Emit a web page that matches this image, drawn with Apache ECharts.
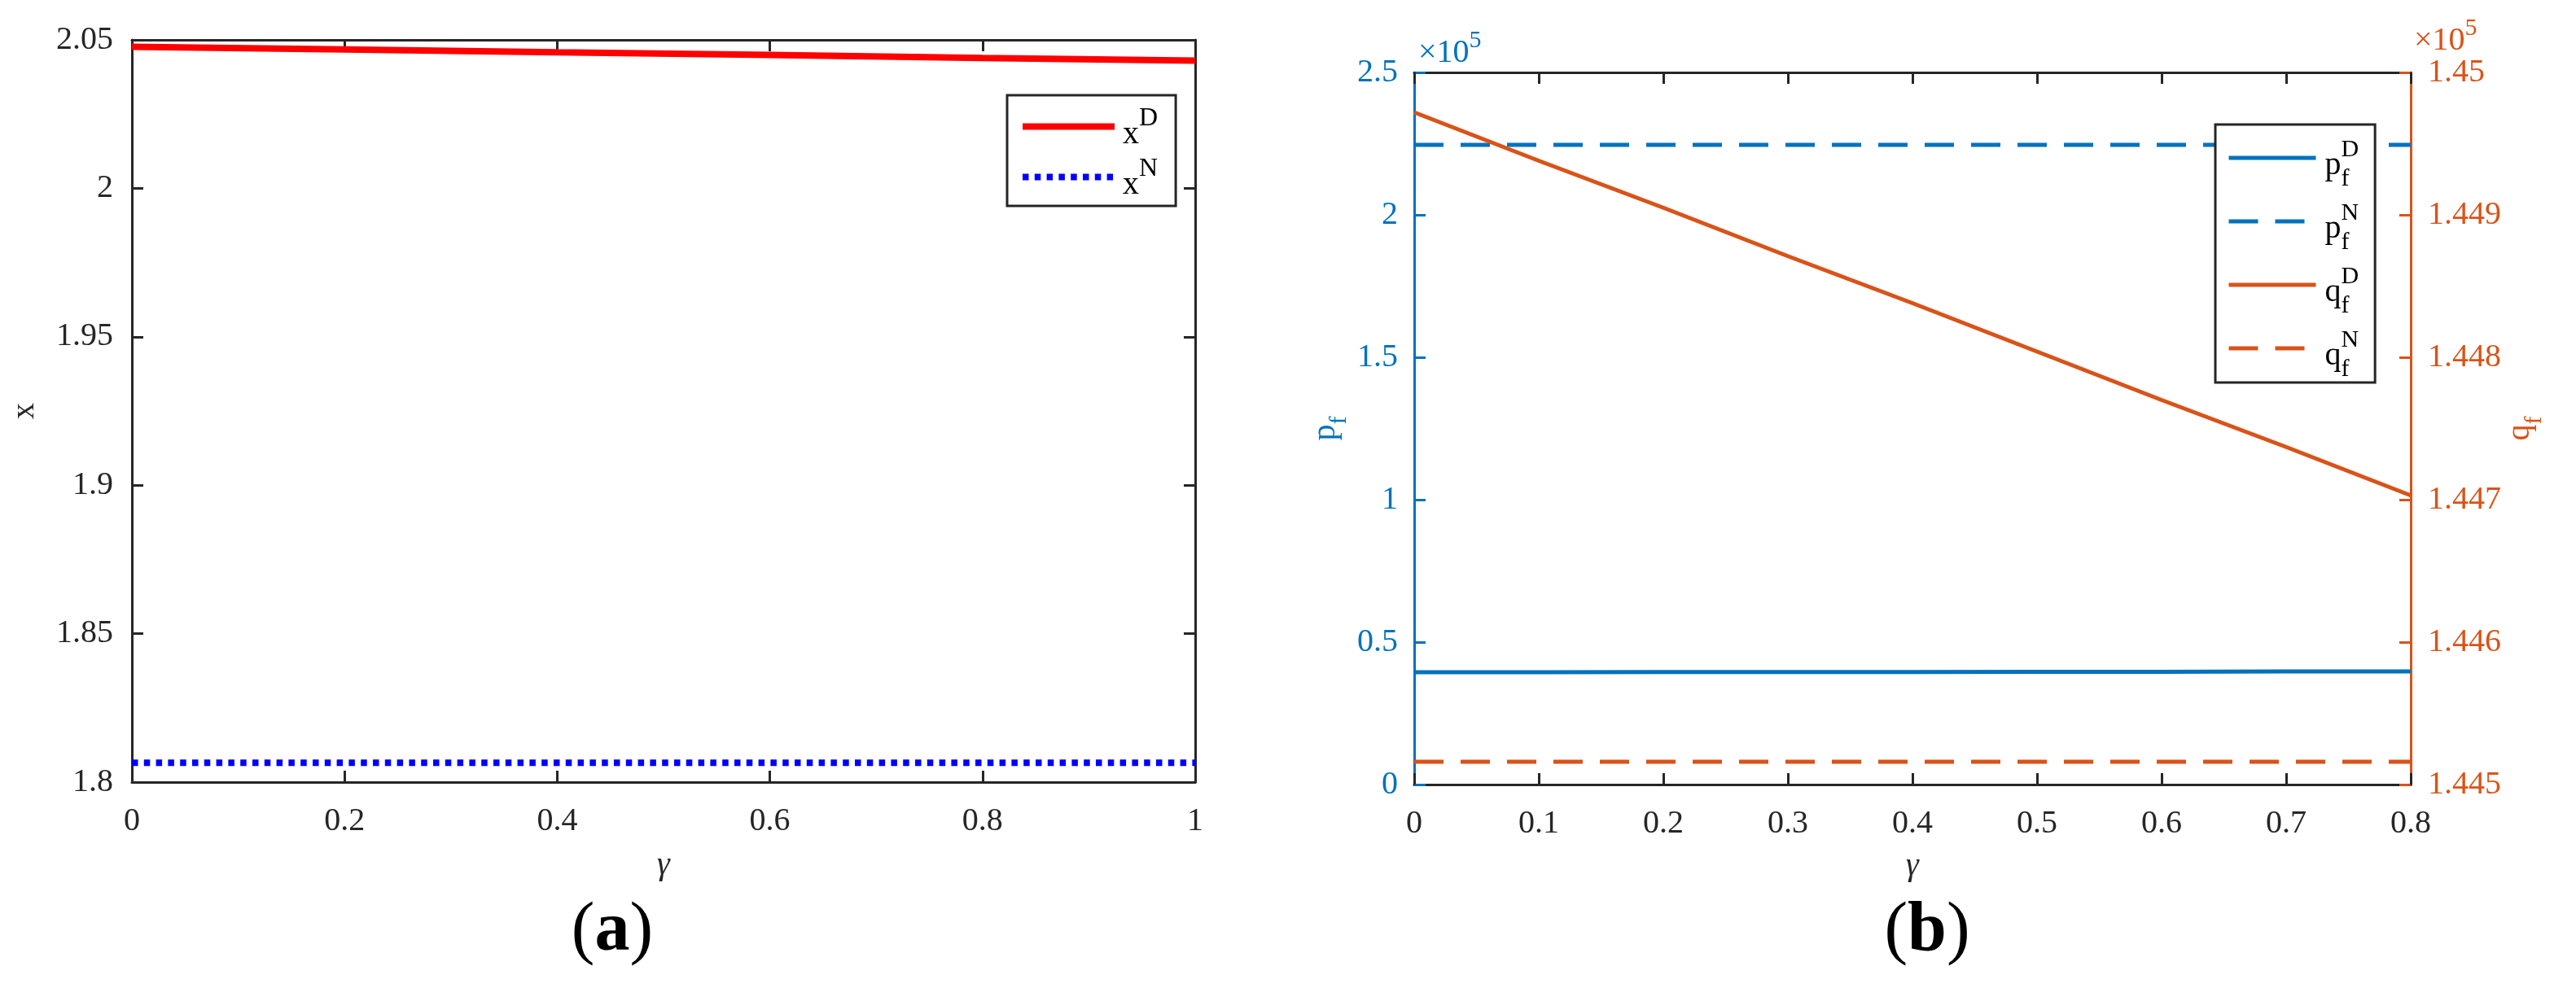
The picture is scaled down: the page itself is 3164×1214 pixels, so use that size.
<!DOCTYPE html>
<html>
<head>
<meta charset="utf-8">
<script src="https://cdn.jsdelivr.net/npm/echarts@6/dist/echarts.min.js"></script>
<style>
html, body { margin: 0; padding: 0; background: #fff; }
#main { width: 3164px; height: 1214px; }
</style>
</head>
<body>
<div id="main"></div>
<script>
// (a) x against gamma
const gammaA = [0, 0.2, 0.4, 0.6, 0.8, 1];
const xD = [2.0477, 2.0468, 2.0458, 2.0449, 2.0439, 2.0430];
const xN = [1.8065, 1.8065, 1.8065, 1.8065, 1.8065, 1.8065];

// (b) p_f and q_f against gamma, in units of 10^5
const gammaB = [0, 0.1, 0.2, 0.3, 0.4, 0.5, 0.6, 0.7, 0.8];
const pfD = [0.394, 0.394, 0.395, 0.395, 0.395, 0.396, 0.396, 0.397, 0.397];
const pfN = [2.246, 2.246, 2.246, 2.246, 2.246, 2.246, 2.246, 2.246, 2.246];
const qfD = [1.44972, 1.44938, 1.44905, 1.44871, 1.44838, 1.44804, 1.44770, 1.44737, 1.44703];
const qfN = [1.44516, 1.44516, 1.44516, 1.44516, 1.44516, 1.44516, 1.44516, 1.44516, 1.44516];

const SERIF = "'Liberation Serif', 'Times New Roman', serif";
const DARK = "#262626";
const BLUE = "#0072BD";
const ORANGE = "#D95319";

const pairs = (xs, ys) => xs.map((g, i) => [g, ys[i]]);

// legend labels, superscript stacked above subscript
const LABELS = {
  xD: "{g| }{sup|D}\n{b|x}",
  xN: "{g| }{sup|N}\n{b|x}",
  pD: "{g| }{sup|D}\n{b|p}{s|f}",
  pN: "{g| }{sup|N}\n{b|p}{s|f}",
  qD: "{g| }{sup|D}\n{b|q}{s|f}",
  qN: "{g| }{sup|N}\n{b|q}{s|f}",
};

function axisCommon(color, showLabel, margin) {
  return {
    axisLine: { onZero: false, lineStyle: { color: color, width: 3 } },
    axisTick: { inside: true, length: 14, lineStyle: { color: color, width: 3 } },
    axisLabel: {
      show: showLabel,
      margin: margin,
      fontSize: 40,
      fontFamily: SERIF,
      color: color,
    },
    splitLine: { show: false },
  };
}

// p_f / q_f axis names (subscript f)
function subName(color) {
  return {
    color: color,
    rich: {
      b: { fontSize: 40, fontFamily: SERIF, color: color, height: 24, lineHeight: 32, verticalAlign: "top" },
      s: { fontSize: 30, fontFamily: SERIF, color: color, height: 6, lineHeight: 6, verticalAlign: "bottom" },
    },
  };
}

const gammaName = {
  name: "\u03b3",
  nameLocation: "middle",
  nameTextStyle: { fontSize: 40, fontFamily: SERIF, fontStyle: "italic", color: DARK },
};

const myChart = echarts.init(document.getElementById("main"), null, { renderer: "canvas" });

myChart.setOption({
  animation: false,
  backgroundColor: "#fff",
  grid: [
    { left: 162, top: 49, width: 1306, height: 912, outerBoundsMode: "none" },
    { left: 1737, top: 89, width: 1224, height: 875, outerBoundsMode: "none" },
  ],
  xAxis: [
    Object.assign({ gridIndex: 0, type: "value", min: 0, max: 1, interval: 0.2, position: "bottom", nameGap: 82 },
      axisCommon(DARK, true, 28), gammaName),
    Object.assign({ gridIndex: 0, type: "value", min: 0, max: 1, interval: 0.2, position: "top" },
      axisCommon(DARK, false, 8)),
    Object.assign({ gridIndex: 1, type: "value", min: 0, max: 0.8, interval: 0.1, position: "bottom", nameGap: 80 },
      axisCommon(DARK, true, 28), gammaName),
    Object.assign({ gridIndex: 1, type: "value", min: 0, max: 0.8, interval: 0.1, position: "top" },
      axisCommon(DARK, false, 8)),
  ],
  yAxis: [
    Object.assign({
      gridIndex: 0, type: "value", min: 1.8, max: 2.05, interval: 0.05, position: "left",
      name: "x", nameLocation: "middle", nameRotate: 90, nameGap: 112,
      nameTextStyle: { fontSize: 40, fontFamily: SERIF, color: DARK },
    }, axisCommon(DARK, true, 23)),
    Object.assign({ gridIndex: 0, type: "value", min: 1.8, max: 2.05, interval: 0.05, position: "right" },
      axisCommon(DARK, false, 8)),
    Object.assign({
      gridIndex: 1, type: "value", min: 0, max: 2.5, interval: 0.5, position: "left",
      name: "{b|p}{s|f}", nameLocation: "middle", nameRotate: 90, nameGap: 89,
      nameTextStyle: subName(BLUE),
    }, axisCommon(BLUE, true, 20)),
    Object.assign({
      gridIndex: 1, type: "value", min: 1.445, max: 1.45, interval: 0.001, position: "right",
      name: "{b|q}{s|f}", nameLocation: "middle", nameRotate: 90, nameGap: 118,
      nameTextStyle: subName(ORANGE),
    }, axisCommon(ORANGE, true, 21)),
  ],
  legend: [
    {
      data: ["xD", "xN"],
      left: 1237,
      top: 117,
      orient: "vertical",
      itemWidth: 113,
      itemHeight: 12,
      itemGap: 7,
      padding: [13, 22, 6, 15],
      borderColor: DARK,
      borderWidth: 3,
      borderRadius: 0,
      backgroundColor: "#fff",
      selectedMode: false,
      formatter: (n) => LABELS[n],
      lineStyle: { width: 8 },
      itemStyle: { opacity: 0 },
      textStyle: {
        padding: [0, 0, 0, 5],
        rich: {
          g: { width: 20, fontSize: 10, height: 19, lineHeight: 19 },
          sup: { fontSize: 32, fontFamily: SERIF, color: "#000", height: 19, lineHeight: 19 },
          b: { fontSize: 40, fontFamily: SERIF, color: "#000", height: 19, lineHeight: 19 },
        },
      },
    },
    {
      data: ["pD", "pN", "qD", "qN"],
      left: 2721,
      top: 153,
      orient: "vertical",
      itemWidth: 107,
      itemHeight: 12,
      itemGap: 12,
      padding: [16, 20, 1, 14],
      borderColor: DARK,
      borderWidth: 3,
      borderRadius: 0,
      backgroundColor: "#fff",
      selectedMode: false,
      formatter: (n) => LABELS[n],
      lineStyle: { width: 5 },
      itemStyle: { opacity: 0 },
      textStyle: {
        padding: [9.5, 0, 0, 6],
        rich: {
          g: { width: 20, fontSize: 10, height: 19, lineHeight: 19 },
          sup: { fontSize: 30, fontFamily: SERIF, color: "#000", height: 19, lineHeight: 19 },
          b: { fontSize: 40, fontFamily: SERIF, color: "#000", height: 19, lineHeight: 29.5, verticalAlign: "top" },
          s: { fontSize: 30, fontFamily: SERIF, color: "#000", height: 6, lineHeight: 6, verticalAlign: "bottom" },
        },
      },
    },
  ],
  graphic: [
    {
      type: "text", x: 1742, y: 80,
      style: {
        text: "{a|\u00d710}{s|5}", fill: BLUE, verticalAlign: "bottom",
        rich: {
          a: { fontSize: 40, fontFamily: SERIF, fill: BLUE, height: 30, lineHeight: 40, verticalAlign: "bottom" },
          s: { fontSize: 30, fontFamily: SERIF, fill: BLUE, height: 20, lineHeight: 20, verticalAlign: "top" },
        },
      },
    },
    {
      type: "text", x: 2965, y: 65,
      style: {
        text: "{a|\u00d710}{s|5}", fill: ORANGE, verticalAlign: "bottom",
        rich: {
          a: { fontSize: 40, fontFamily: SERIF, fill: ORANGE, height: 30, lineHeight: 40, verticalAlign: "bottom" },
          s: { fontSize: 30, fontFamily: SERIF, fill: ORANGE, height: 20, lineHeight: 20, verticalAlign: "top" },
        },
      },
    },
    {
      type: "text", x: 752, y: 1145,
      style: {
        text: "{p|(}{b|a}{p|)}", fill: "#000", align: "center", verticalAlign: "middle",
        rich: {
          p: { fontSize: 86, fontFamily: SERIF, fill: "#000" },
          b: { fontSize: 86, fontFamily: SERIF, fontWeight: "bold", fill: "#000" },
        },
      },
    },
    {
      type: "text", x: 2367, y: 1145,
      style: {
        text: "{p|(}{b|b}{p|)}", fill: "#000", align: "center", verticalAlign: "middle",
        rich: {
          p: { fontSize: 86, fontFamily: SERIF, fill: "#000" },
          b: { fontSize: 86, fontFamily: SERIF, fontWeight: "bold", fill: "#000" },
        },
      },
    },
  ],
  series: [
    {
      name: "xD", type: "line", xAxisIndex: 0, yAxisIndex: 0,
      data: pairs(gammaA, xD), symbol: "none",
      itemStyle: { color: "#FF0000" },
      lineStyle: { color: "#FF0000", width: 8 },
    },
    {
      name: "xN", type: "line", xAxisIndex: 0, yAxisIndex: 0,
      data: pairs(gammaA, xN), symbol: "none",
      itemStyle: { color: "#0000FF" },
      lineStyle: { color: "#0000FF", width: 8, type: [7.5, 7.3], cap: "butt" },
    },
    {
      name: "pD", type: "line", xAxisIndex: 2, yAxisIndex: 2,
      data: pairs(gammaB, pfD), symbol: "none",
      itemStyle: { color: BLUE },
      lineStyle: { color: BLUE, width: 5 },
    },
    {
      name: "pN", type: "line", xAxisIndex: 2, yAxisIndex: 2,
      data: pairs(gammaB, pfN), symbol: "none",
      itemStyle: { color: BLUE },
      lineStyle: { color: BLUE, width: 5, type: [36, 21], cap: "butt" },
    },
    {
      name: "qD", type: "line", xAxisIndex: 2, yAxisIndex: 3,
      data: pairs(gammaB, qfD), symbol: "none",
      itemStyle: { color: ORANGE },
      lineStyle: { color: ORANGE, width: 5 },
    },
    {
      name: "qN", type: "line", xAxisIndex: 2, yAxisIndex: 3,
      data: pairs(gammaB, qfN), symbol: "none",
      itemStyle: { color: ORANGE },
      lineStyle: { color: ORANGE, width: 5, type: [36, 21], cap: "butt" },
    },
  ],
});
</script>
</body>
</html>
